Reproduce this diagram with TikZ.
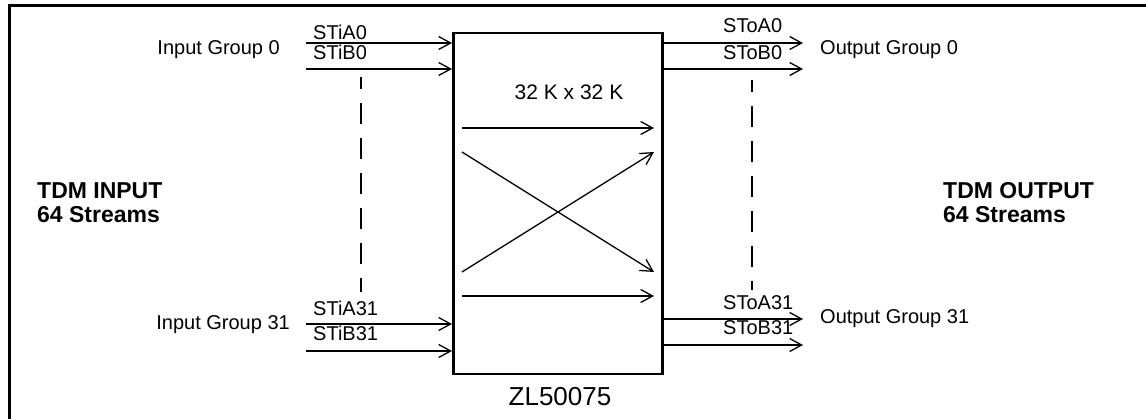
\documentclass[tikz,border=0pt]{standalone}
\usepackage{fontspec}
\setmainfont{Liberation Sans}
\usetikzlibrary{positioning,arrows.meta,calc}
\newcommand{\txt}{\fontsize{20}{24}\selectfont}

\begin{document}
\begin{tikzpicture}[x=1pt,y=-1pt,>={Straight Barb[length=12pt,width=13pt,line width=1.3pt]}]
  \tikzset{sig/.style={->,line width=2pt},
    lbl/.style={font=\txt,inner sep=0pt,anchor=base west},
    xline/.style={->,line width=1.3pt},
    sep/.style={line width=2.3pt,dash pattern=on 21pt off 14pt,dash phase=9pt},
    side/.style={font=\fontsize{23}{24}\selectfont\bfseries,inner sep=0pt,anchor=base west,align=left}}
  \useasboundingbox (0,0) rectangle (1146,419);
  \node[draw,line width=3pt,anchor=north west,minimum width=1160pt,minimum height=440pt] (frame) at (8,4){};
  \node[draw,line width=2.5pt,anchor=north west,minimum width=209pt,minimum height=341pt] (sw) at (452,32){};
  % input streams
  \coordinate (ia0) at (306,43); \coordinate (ib0) at (306,69);
  \coordinate (ia31) at (306,324); \coordinate (ib31) at (306,351);
  \draw[sig] (ia0)--(ia0 -| sw.west); \draw[sig] (ib0)--(ib0 -| sw.west);
  \draw[sig] (ia31)--(ia31 -| sw.west); \draw[sig] (ib31)--(ib31 -| sw.west);
  \node[lbl] (lia0) at (313,40){STiA0}; \node[lbl] (lib0) at (313,60){STiB0};
  \node[lbl] (lia31) at (313,316){STiA31}; \node[lbl] (lib31) at (313,341){STiB31};
  \node[lbl,anchor=base east] (gin0) at (280,55){Input Group 0};
  \node[lbl,anchor=base east] (gin31) at (290,330){Input Group 31};
  % output streams
  \coordinate (oa0) at (803,43); \coordinate (ob0) at (803,69);
  \coordinate (oa31) at (803,319); \coordinate (ob31) at (803,345);
  \draw[sig] (oa0 -| sw.east)--(oa0); \draw[sig] (ob0 -| sw.east)--(ob0);
  \draw[sig] (oa31 -| sw.east)--(oa31); \draw[sig] (ob31 -| sw.east)--(ob31);
  \node[lbl] (loa0) at (723,33){SToA0}; \node[lbl] (lob0) at (723,60){SToB0};
  \node[lbl] (loa31) at (723,310){SToA31}; \node[lbl] (lob31) at (723,335){SToB31};
  \node[lbl] (gout0) at (820,55){Output Group 0};
  \node[lbl] (gout31) at (820,324){Output Group 31};
  % dashed separators
  \coordinate (dl1) at (361,77); \coordinate (dl2) at (361,292);
  \coordinate (dr1) at (752,80); \coordinate (dr2) at (752,290);
  \draw[sep] (dl1)--(dl2); \draw[sep] (dr1)--(dr2);
  % switch matrix
  \coordinate (s1) at (462,128); \coordinate (e1) at (654,128);
  \coordinate (s2) at (462,152); \coordinate (e2) at (654,152);
  \coordinate (s3) at (462,272); \coordinate (e3) at (654,272);
  \coordinate (s4) at (462,296); \coordinate (e4) at (654,296);
  \draw[sig] (s1)--(e1); \draw[sig] (s4)--(e4);
  \draw[xline] (s2)--(e3); \draw[xline] (s3)--(e2);
  \node[font=\fontsize{21}{24}\selectfont,inner sep=0pt,anchor=base] (size) at (569,100){32 K x 32 K};
  \node[font=\fontsize{26}{30}\selectfont,inner sep=0pt,anchor=base] (chip) at (560,406){ZL50075};
  \node[side] (tin) at (37,223){TDM INPUT\\64 Streams};
  \node[side] (tout) at (943,223){TDM OUTPUT\\64 Streams};
\end{tikzpicture}
\end{document}
